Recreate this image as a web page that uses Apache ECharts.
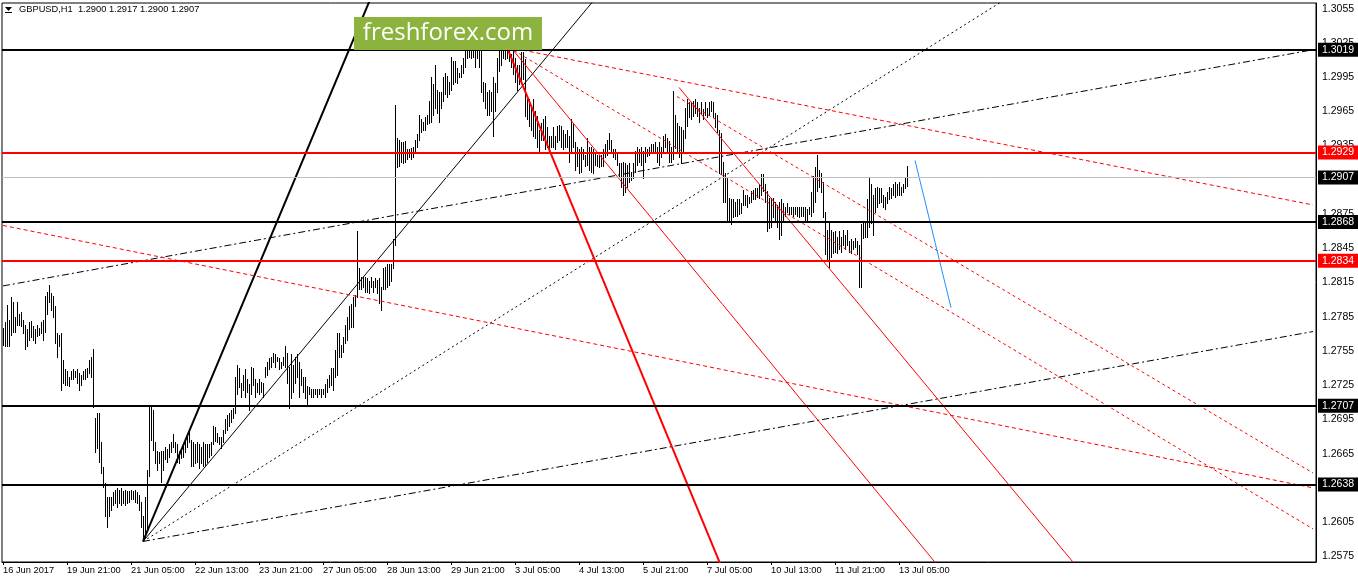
<!DOCTYPE html>
<html>
<head>
<meta charset="utf-8">
<title>GBPUSD,H1</title>
<script src="https://cdn.jsdelivr.net/npm/echarts@6/dist/echarts.min.js"></script>
<style>
html, body { margin: 0; padding: 0; background: #fff; }
#chart { width: 1358px; height: 584px; }
</style>
</head>
<body>
<div id="chart"></div>
<script>
// GBPUSD H1, one entry per hourly bar, 16 Jun 2017 13:00 .. 13 Jul 2017 09:00
var barHigh = [
  1.2775,1.2780,1.2795,1.2782,1.2802,1.2798,1.2785,1.2798,1.2787,1.2789,
  1.2782,1.2778,1.2774,1.2780,1.2781,1.2777,1.2774,1.2778,1.2775,1.2780,
  1.2782,1.2803,1.2807,1.2813,1.2806,1.2803,1.2794,1.2771,1.2769,1.2771,
  1.2747,1.2739,1.2737,1.2732,1.2737,1.2739,1.2737,1.2739,1.2736,1.2734,
  1.2737,1.2739,1.2740,1.2747,1.2750,1.2757,1.2696,1.2701,1.2701,1.2675,
  1.2653,1.2639,1.2627,1.2627,1.2627,1.2631,1.2633,1.2635,1.2633,1.2635,
  1.2632,1.2633,1.2632,1.2632,1.2633,1.2632,1.2633,1.2631,1.2629,1.2623,
  1.2610,1.2627,1.2651,1.2708,1.2708,1.2703,1.2675,1.2667,1.2666,1.2667,
  1.2667,1.2671,1.2669,1.2673,1.2675,1.2682,1.2675,1.2673,1.2667,1.2670,
  1.2673,1.2677,1.2680,1.2686,1.2677,1.2675,1.2673,1.2675,1.2673,1.2671,
  1.2675,1.2673,1.2673,1.2673,1.2675,1.2689,1.2688,1.2683,1.2680,1.2680,
  1.2686,1.2695,1.2699,1.2701,1.2703,1.2705,1.2732,1.2743,1.2740,1.2727,
  1.2734,1.2739,1.2730,1.2726,1.2741,1.2740,1.2730,1.2727,1.2730,1.2728,
  1.2727,1.2741,1.2745,1.2749,1.2750,1.2753,1.2752,1.2750,1.2749,1.2745,
  1.2750,1.2759,1.2753,1.2741,1.2752,1.2743,1.2750,1.2752,1.2745,1.2739,
  1.2732,1.2732,1.2724,1.2723,1.2722,1.2722,1.2722,1.2722,1.2722,1.2722,
  1.2722,1.2726,1.2730,1.2734,1.2740,1.2740,1.2756,1.2771,1.2771,1.2760,
  1.2767,1.2778,1.2785,1.2794,1.2796,1.2802,1.2804,1.2860,1.2828,1.2820,
  1.2820,1.2820,1.2819,1.2816,1.2820,1.2816,1.2819,1.2817,1.2819,1.2811,
  1.2828,1.2829,1.2831,1.2831,1.2831,1.2853,1.2971,1.2942,1.2940,1.2938,
  1.2938,1.2939,1.2932,1.2932,1.2933,1.2934,1.2940,1.2945,1.2962,1.2958,
  1.2956,1.2960,1.2962,1.2974,1.2995,1.2989,1.3006,1.2984,1.2982,1.2982,
  1.2995,1.2999,1.2996,1.2991,1.3013,1.3009,1.3009,1.3003,1.2999,1.3006,
  1.3012,1.3018,1.3024,1.3021,1.3026,1.3020,1.3021,1.3023,1.3021,1.3019,
  1.2991,1.2990,1.2982,1.2984,1.2982,1.2995,1.2990,1.3012,1.3018,1.3019,
  1.3024,1.3026,1.3028,1.3019,1.3015,1.3018,1.3012,1.3006,1.3006,1.3017,
  1.3017,1.3011,1.2976,1.2976,1.2970,1.2976,1.2965,1.2961,1.2949,1.2955,
  1.2958,1.2961,1.2951,1.2943,1.2943,1.2951,1.2943,1.2952,1.2953,1.2952,
  1.2949,1.2945,1.2949,1.2943,1.2958,1.2955,1.2938,1.2934,1.2932,1.2934,
  1.2932,1.2927,1.2942,1.2934,1.2934,1.2932,1.2929,1.2927,1.2927,1.2927,
  1.2932,1.2936,1.2940,1.2946,1.2940,1.2932,1.2932,1.2929,1.2920,1.2920,
  1.2921,1.2920,1.2918,1.2920,1.2912,1.2920,1.2930,1.2934,1.2932,1.2934,
  1.2930,1.2934,1.2932,1.2934,1.2936,1.2936,1.2938,1.2934,1.2938,1.2934,
  1.2943,1.2945,1.2942,1.2939,1.2934,1.2983,1.2962,1.2955,1.2952,1.2951,
  1.2949,1.2968,1.2976,1.2973,1.2973,1.2974,1.2976,1.2973,1.2968,1.2973,
  1.2967,1.2973,1.2968,1.2973,1.2974,1.2973,1.2964,1.2962,1.2949,1.2946,
  1.2921,1.2911,1.2907,1.2889,1.2888,1.2888,1.2886,1.2888,1.2888,1.2885,
  1.2896,1.2892,1.2892,1.2890,1.2895,1.2896,1.2898,1.2898,1.2901,1.2910,
  1.2910,1.2901,1.2895,1.2889,1.2889,1.2889,1.2886,1.2883,1.2886,1.2888,
  1.2885,1.2881,1.2885,1.2881,1.2881,1.2881,1.2881,1.2881,1.2881,1.2881,
  1.2881,1.2881,1.2879,1.2881,1.2894,1.2908,1.2916,1.2927,1.2914,1.2911,
  1.2903,1.2877,1.2861,1.2868,1.2861,1.2859,1.2860,1.2855,1.2860,1.2855,
  1.2861,1.2857,1.2861,1.2851,1.2853,1.2851,1.2854,1.2851,1.2848,1.2866,
  1.2868,1.2868,1.2888,1.2907,1.2901,1.2892,1.2898,1.2899,1.2898,1.2898,
  1.2892,1.2890,1.2894,1.2899,1.2898,1.2901,1.2903,1.2901,1.2903,1.2899,
  1.2901,1.2907,1.2917
];
var barLow = [
  1.2760,1.2759,1.2759,1.2759,1.2769,1.2772,1.2772,1.2778,1.2778,1.2777,
  1.2771,1.2757,1.2759,1.2765,1.2767,1.2765,1.2762,1.2768,1.2769,1.2771,
  1.2765,1.2772,1.2787,1.2798,1.2791,1.2785,1.2762,1.2750,1.2759,1.2721,
  1.2727,1.2725,1.2725,1.2724,1.2730,1.2730,1.2732,1.2727,1.2721,1.2725,
  1.2730,1.2730,1.2732,1.2736,1.2732,1.2706,1.2666,1.2670,1.2658,1.2648,
  1.2636,1.2610,1.2601,1.2610,1.2616,1.2620,1.2622,1.2618,1.2622,1.2620,
  1.2622,1.2620,1.2622,1.2623,1.2625,1.2625,1.2623,1.2622,1.2616,1.2601,
  1.2588,1.2592,1.2598,1.2645,1.2677,1.2668,1.2657,1.2651,1.2657,1.2640,
  1.2651,1.2660,1.2658,1.2662,1.2666,1.2671,1.2666,1.2658,1.2657,1.2661,
  1.2662,1.2666,1.2671,1.2675,1.2654,1.2654,1.2657,1.2658,1.2652,1.2657,
  1.2654,1.2655,1.2658,1.2662,1.2664,1.2673,1.2676,1.2675,1.2673,1.2670,
  1.2675,1.2683,1.2686,1.2689,1.2693,1.2696,1.2701,1.2717,1.2723,1.2715,
  1.2721,1.2715,1.2719,1.2703,1.2717,1.2725,1.2715,1.2719,1.2717,1.2719,
  1.2715,1.2732,1.2734,1.2739,1.2741,1.2745,1.2741,1.2746,1.2739,1.2740,
  1.2743,1.2741,1.2727,1.2705,1.2714,1.2719,1.2727,1.2732,1.2715,1.2725,
  1.2719,1.2714,1.2708,1.2717,1.2715,1.2715,1.2717,1.2715,1.2717,1.2715,
  1.2717,1.2715,1.2719,1.2723,1.2725,1.2721,1.2732,1.2734,1.2750,1.2750,
  1.2754,1.2762,1.2765,1.2774,1.2776,1.2776,1.2794,1.2802,1.2809,1.2809,
  1.2811,1.2807,1.2807,1.2806,1.2811,1.2807,1.2811,1.2806,1.2797,1.2791,
  1.2809,1.2809,1.2811,1.2813,1.2816,1.2828,1.2848,1.2916,1.2917,1.2921,
  1.2920,1.2921,1.2923,1.2925,1.2923,1.2925,1.2930,1.2934,1.2940,1.2947,
  1.2949,1.2949,1.2954,1.2955,1.2956,1.2962,1.2968,1.2964,1.2956,1.2968,
  1.2974,1.2980,1.2978,1.2980,1.2984,1.2989,1.2991,1.2990,1.2995,1.2995,
  1.2999,1.3004,1.3012,1.3013,1.3012,1.3013,1.3004,1.3012,1.3004,1.2982,
  1.2974,1.2968,1.2962,1.2962,1.2965,1.2943,1.2965,1.2982,1.3000,1.3006,
  1.3012,1.3011,1.3012,1.3009,1.3004,1.2998,1.2991,1.2984,1.2989,1.2991,
  1.2993,1.2961,1.2958,1.2952,1.2949,1.2943,1.2942,1.2934,1.2930,1.2940,
  1.2940,1.2932,1.2934,1.2929,1.2934,1.2934,1.2932,1.2938,1.2940,1.2934,
  1.2932,1.2934,1.2934,1.2921,1.2929,1.2934,1.2914,1.2917,1.2911,1.2912,
  1.2923,1.2917,1.2918,1.2914,1.2912,1.2911,1.2918,1.2917,1.2916,1.2917,
  1.2917,1.2925,1.2927,1.2932,1.2929,1.2925,1.2923,1.2918,1.2908,1.2899,
  1.2892,1.2894,1.2899,1.2903,1.2905,1.2907,1.2912,1.2918,1.2921,1.2918,
  1.2907,1.2921,1.2926,1.2927,1.2929,1.2929,1.2929,1.2921,1.2918,1.2925,
  1.2930,1.2934,1.2929,1.2921,1.2921,1.2923,1.2933,1.2930,1.2925,1.2920,
  1.2930,1.2942,1.2952,1.2960,1.2958,1.2961,1.2964,1.2961,1.2956,1.2964,
  1.2958,1.2962,1.2960,1.2962,1.2965,1.2960,1.2951,1.2947,1.2911,1.2910,
  1.2886,1.2886,1.2868,1.2868,1.2866,1.2872,1.2873,1.2873,1.2875,1.2876,
  1.2883,1.2883,1.2881,1.2885,1.2886,1.2888,1.2888,1.2890,1.2889,1.2892,
  1.2895,1.2886,1.2860,1.2863,1.2864,1.2872,1.2868,1.2864,1.2853,1.2857,
  1.2868,1.2873,1.2877,1.2875,1.2875,1.2873,1.2875,1.2873,1.2872,1.2873,
  1.2873,1.2870,1.2870,1.2875,1.2873,1.2877,1.2886,1.2895,1.2899,1.2894,
  1.2872,1.2840,1.2835,1.2829,1.2837,1.2841,1.2842,1.2841,1.2844,1.2842,
  1.2848,1.2844,1.2848,1.2842,1.2841,1.2844,1.2846,1.2840,1.2811,1.2811,
  1.2854,1.2855,1.2855,1.2864,1.2867,1.2857,1.2877,1.2881,1.2885,1.2886,
  1.2881,1.2879,1.2885,1.2888,1.2889,1.2892,1.2890,1.2892,1.2892,1.2892,
  1.2894,1.2898,1.2900
];
var lastBar = ['1.2900', '1.2917', '1.2900', '1.2907'];   // O H L C of the current bar

var xTickLabels = ['16 Jun 2017', '19 Jun 21:00', '21 Jun 05:00', '22 Jun 13:00', '23 Jun 21:00',
  '27 Jun 05:00', '28 Jun 13:00', '29 Jun 21:00', '3 Jul 05:00', '4 Jul 13:00', '5 Jul 21:00',
  '7 Jul 05:00', '10 Jul 13:00', '11 Jul 21:00', '13 Jul 05:00'];
var yTickLabels = ['1.2575', '1.2605', '1.2635', '1.2665', '1.2695', '1.2725', '1.2755', '1.2785',
  '1.2815', '1.2845', '1.2875', '1.2905', '1.2935', '1.2965', '1.2995', '1.3025', '1.3055'];

// horizontal levels
var blackLevels = [1.3019, 1.2868, 1.2707, 1.2638];
var redLevels = [1.2929, 1.2834];
var bidPrice = 1.2907;

// trend lines, [bar index, price] anchors
var fanThick    = [[70, 1.2588], [190, 1.3090]];
var fanThin     = [[70, 1.2588], [300, 1.3072]];
var fanDotted   = [[70, 1.2588], [510, 1.3073]];
var fanLong     = [[70, 1.2588], [655, 1.2772]];
var upperDashed = [[0, 1.2812], [655, 1.3019]];
var redSteep    = [[252, 1.3021], [362, 1.2554]];
var redChanA    = [[253, 1.3023], [480, 1.2540]];
var redChanB    = [[338, 1.2986], [543, 1.2553]];
var redDashLong = [[0, 1.2865], [655, 1.2635]];
var redDashTop  = [[253, 1.3021], [655, 1.2883]];
var redDashMid  = [[253, 1.3021], [655, 1.2599]];
var redDashLow  = [[337, 1.2978], [655, 1.2648]];
var blueLine    = [[456, 1.2922], [474, 1.2793]];

var SLOTS = 657;      // bars plus the empty shift on the right
var FONT = 'Liberation Sans, Arial, sans-serif';

var slots = [];
for (var i = 0; i < SLOTS; i++) slots.push(String(i));

var bars = [];
for (var j = 0; j < barHigh.length; j++) bars.push([j, barLow[j], barHigh[j]]);

function isLabelTick(idx) {
  return idx % 32 === 0 && idx / 32 < xTickLabels.length;
}

function renderBar(params, api) {
  var hi = api.coord([api.value(0), api.value(2)]);
  var lo = api.coord([api.value(0), api.value(1)]);
  var x = Math.round(hi[0]) + 0.5;
  return {
    type: 'line',
    shape: { x1: x, y1: Math.round(hi[1]), x2: x, y2: Math.round(lo[1]) + 1 },
    style: { stroke: '#000', lineWidth: 1 }
  };
}

function trend(pts, color, width, type) {
  return {
    type: 'line', data: pts, symbol: 'none', silent: true, clip: true,
    lineStyle: { color: color, width: width, type: type || 'solid' },
    z: 3
  };
}

function levelLine(v, color, width, boxColor) {
  return {
    yAxis: v,
    lineStyle: { color: color, width: width, type: 'solid' },
    label: {
      show: true, position: 'end', distance: 2,
      formatter: v.toFixed(4),
      color: '#fff', backgroundColor: boxColor,
      padding: [2, 4, 1, 4], fontSize: 10.5, fontFamily: FONT
    }
  };
}

var levelData = [];
blackLevels.forEach(function (v) { levelData.push(levelLine(v, '#000', 2, '#000')); });
redLevels.forEach(function (v) { levelData.push(levelLine(v, '#ff0000', 2, '#ff0000')); });
levelData.push(levelLine(bidPrice, '#c0c0c0', 1, '#000'));

var chart = echarts.init(document.getElementById('chart'));

var levelsSeries = trend(upperDashed, '#000', 1, [7, 3, 2, 3]);
levelsSeries.markLine = {
  silent: true, symbol: 'none', animation: false,
  precision: 4,
  data: levelData
};

chart.setOption({
  animation: false,
  backgroundColor: '#fff',
  grid: {
    left: 2, right: 42, top: 3, bottom: 22,
    show: true, borderColor: '#000', borderWidth: 1,
    outerBoundsMode: 'none'
  },
  xAxis: {
    type: 'category',
    data: slots,
    boundaryGap: true,
    axisLine: { show: true, lineStyle: { color: '#000', width: 1 } },
    axisTick: {
      show: true, alignWithLabel: true, length: 3,
      interval: function (idx) { return isLabelTick(idx); },
      lineStyle: { color: '#000' }
    },
    axisLabel: {
      interval: function (idx) { return isLabelTick(idx); },
      formatter: function (val, idx) { return isLabelTick(idx) ? xTickLabels[idx / 32] : ''; },
      align: 'left', margin: 4,
      color: '#000', fontSize: 9.3, fontFamily: FONT
    },
    splitLine: { show: false }
  },
  yAxis: {
    type: 'value',
    position: 'right',
    min: 1.2570, max: 1.3060, interval: 0.0005,
    scale: true,
    axisLine: { show: true, lineStyle: { color: '#000', width: 1 } },
    axisTick: { show: false },
    splitLine: { show: false },
    axisLabel: {
      margin: 6, color: '#000', fontSize: 10.5, fontFamily: FONT,
      showMinLabel: false, showMaxLabel: false,
      formatter: function (v) {
        var s = v.toFixed(4);
        return yTickLabels.indexOf(s) >= 0 ? s : '';
      }
    }
  },
  series: [
    {
      type: 'custom', data: bars, renderItem: renderBar,
      encode: { x: 0, y: [1, 2] }, silent: true, z: 2
    },
    trend(fanThick, '#000', 2),
    trend(fanThin, '#000', 1),
    trend(fanDotted, '#000', 1, [2, 3]),
    trend(fanLong, '#000', 1, [7, 3, 2, 3]),
    levelsSeries,
    trend(redSteep, '#ff0000', 2),
    trend(redChanA, '#ff0000', 1),
    trend(redChanB, '#ff0000', 1),
    trend(redDashLong, '#ff0000', 1, [4, 3]),
    trend(redDashTop, '#ff0000', 1, [4, 3]),
    trend(redDashMid, '#ff0000', 1, [3, 3]),
    trend(redDashLow, '#ff0000', 1, [3, 3]),
    trend(blueLine, '#1e90ff', 1)
  ],
  graphic: [
    {
      type: 'polygon', z: 100,
      shape: { points: [[5, 7], [12, 7], [8.5, 11]] },
      style: { fill: '#000' }
    },
    {
      type: 'line', z: 100,
      shape: { x1: 5, y1: 12.5, x2: 12, y2: 12.5 },
      style: { stroke: '#000', lineWidth: 1 }
    },
    {
      type: 'text', left: 19, top: 5, z: 100,
      style: {
        text: 'GBPUSD,H1  ' + lastBar.join(' '),
        fill: '#000', font: '9.3px ' + FONT
      }
    },
    {
      type: 'rect', z: 100,
      shape: { x: 354, y: 17, width: 188, height: 33 },
      style: { fill: '#8cb33e' }
    },
    {
      type: 'text', z: 101, x: 448, y: 33,
      style: {
        text: 'freshforex.com', fill: '#fff',
        font: '24px "Open Sans", "Noto Sans", sans-serif',
        textAlign: 'center', textVerticalAlign: 'middle'
      }
    }
  ]
});
</script>
</body>
</html>
